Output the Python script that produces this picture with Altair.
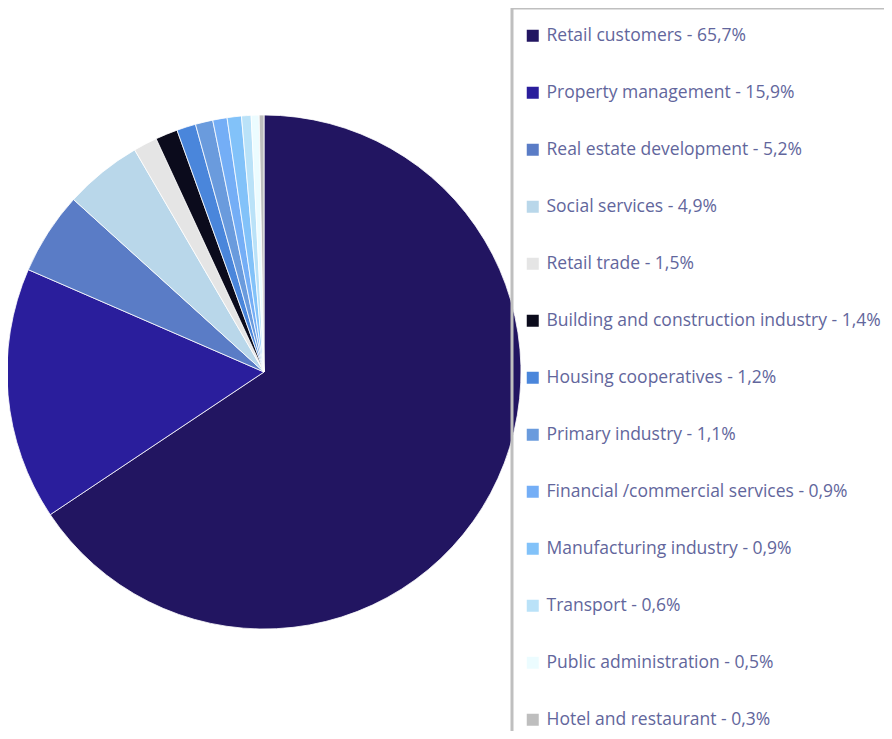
import altair as alt
import pandas as pd

categories = [
    "Retail customers", "Property management", "Real estate development",
    "Social services", "Retail trade", "Building and construction industry",
    "Housing cooperatives", "Primary industry", "Financial /commercial services",
    "Manufacturing industry", "Transport", "Public administration",
    "Hotel and restaurant",
]
shares = [65.7, 15.9, 5.2, 4.9, 1.5, 1.4, 1.2, 1.1, 0.9, 0.9, 0.6, 0.5, 0.3]
colors = ["#221561", "#2A1E9C", "#5A7CC6", "#B9D7EA", "#E5E5E5", "#0B0B1C",
          "#4A86DB", "#6A9BDD", "#74AEF6", "#82C2F9", "#BAE2F8", "#ECFCFF",
          "#BEBEBE"]

labels = [f"{c} - {v:.1f}".replace(".", ",") + "%" for c, v in zip(categories, shares)]
df = pd.DataFrame({"label": labels, "share": shares, "idx": list(range(len(labels)))})

chart = alt.Chart(df).mark_arc(radius=257, stroke="white", strokeWidth=0.8).encode(
    x=alt.value(256),
    y=alt.value(364),
    theta=alt.Theta("share:Q", stack=True),
    order=alt.Order("idx:Q", sort="ascending"),
    color=alt.Color(
        "label:N",
        sort=labels,
        scale=alt.Scale(domain=labels, range=colors),
        legend=alt.Legend(
            title=" ",
            titleFontSize=1,
            titlePadding=6,
            orient="none",
            legendX=504,
            legendY=0,
            symbolType="square",
            symbolSize=144,
            symbolStrokeWidth=0,
            labelFont="Open Sans",
            labelFontSize=17.5,
            labelColor="#62669C",
            labelOffset=5,
            labelLimit=800,
            rowPadding=38,
            padding=12,
            strokeColor="#BFBFBF",
        ),
    ),
).properties(
    width=876,
    height=723,
    autosize=alt.AutoSizeParams(type="none"),
    padding=0,
).configure_view(stroke=None).configure_legend(strokeWidth=3)

chart.save("out.html", embed_options={"renderer": "svg", "actions": False})
